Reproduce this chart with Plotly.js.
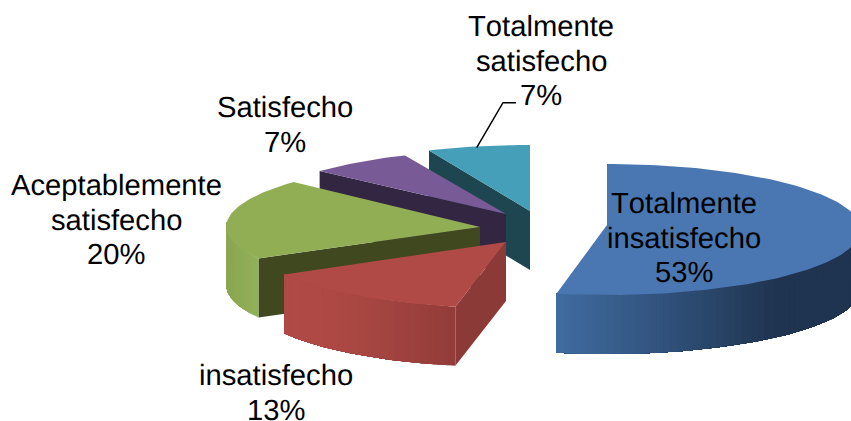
<!DOCTYPE html>
<html>
<head>
<meta charset="utf-8">
<script src="https://cdn.plot.ly/plotly-3.0.1.min.js"></script>
<style>
html,body{margin:0;padding:0;background:#fff}
#chart{width:851px;height:421px}
.annotation-text{font-kerning:none;text-rendering:geometricPrecision}
</style>
</head>
<body>
<div id="chart"></div>
<script>
// Survey answers and their share of respondents, clockwise from twelve o'clock.
const categories = ['Totalmente insatisfecho', 'insatisfecho', 'Aceptablemente satisfecho', 'Satisfecho', 'Totalmente satisfecho'];
const shares = [53, 13, 20, 7, 7];

// Tilted-disc projection.
const RX = 253, RY = 65.5, PERSPECTIVE = 0.069, DEPTH = 59, STEP = 1.5;
const origins = [[607, 225], [506, 242], [480, 227], [506, 214], [530, 211]];
const rimLift = [0, 4, 5, 3, 5];

// Fill colours per slice.
const topColors = ['#4a77b1', '#b04a47', '#91ae55', '#775a96', '#459fb9'];
const faceColors = [null, '#8c3a38', '#404820', '#332643', '#1d4651'];
const sideStops = [
  [[0, [64, 108, 160]], [0.35, [49, 82, 124]], [0.72, [31, 52, 80]], [1, [31, 52, 80]]],
  [[0, [176, 74, 71]], [0.35, [172, 72, 68]], [1, [146, 60, 57]]],
  [[0, [137, 167, 79]], [1, [147, 176, 90]]],
  null, null
];

// Label placement: centre x and first baseline y, with the line pitch shared.
const labelAnchors = [[684, 213], [276, 385], [116, 195], [285, 117], [541, 36]];
const LINE_PITCH = 34.3, FONT_SIZE = 29.2, BASELINE_TO_MIDDLE = 8.7;
const leaderX = [476.7, 503, 516];
const leaderY = [147.7, 102.7, 102.7];

function project(o, lift, deg, drop) {
  const a = deg * Math.PI / 180, u = Math.sin(a), v = -Math.cos(a), s = 1 + PERSPECTIVE * v;
  return [o[0] + RX * u * s, o[1] - lift + RY * v * s + (drop || 0)];
}
function range(a, b) {
  const out = [];
  for (let d = a; d < b; d += STEP) out.push(d);
  out.push(b);
  return out;
}
function polygon(points, color) {
  const xs = points.map(p => p[0]).concat(points[0][0]);
  const ys = points.map(p => p[1]).concat(points[0][1]);
  return {x: xs, y: ys, type: 'scatter', mode: 'lines', fill: 'toself', fillcolor: color,
          line: {width: 0}, hoverinfo: 'skip', showlegend: false};
}
function ramp(stops, t) {
  for (let i = 1; i < stops.length; i++) {
    if (t <= stops[i][0]) {
      const f = (t - stops[i - 1][0]) / (stops[i][0] - stops[i - 1][0]);
      const c = stops[i - 1][1].map((c0, k) => Math.round(c0 + (stops[i][1][k] - c0) * f));
      return 'rgb(' + c.join(',') + ')';
    }
  }
  return 'rgb(' + stops[stops.length - 1][1].join(',') + ')';
}

// Turn the shares into start and end angles.
const total = shares.reduce((a, b) => a + b, 0);
let running = 0;
const wedges = shares.map(v => {
  const start = running * 360 / total;
  running += v;
  return {start: start, end: running * 360 / total};
});

function sliceTraces(i) {
  const o = origins[i], lift = rimLift[i], w = wedges[i], out = [];
  // The radial wall on the leading edge faces the viewer for all but the first slice.
  if (faceColors[i]) {
    const rim = project(o, lift, w.start);
    out.push(polygon([o, rim, [rim[0], rim[1] + DEPTH], [o[0], o[1] + DEPTH]], faceColors[i]));
  }
  // Outer wall on the near half of the disc: each band runs on to the end of the
  // wall and the next band paints over it, which leaves no seams between bands.
  const from = Math.max(w.start, 90), to = Math.min(w.end, 270);
  if (sideStops[i] && to > from) {
    const angles = range(from, to);
    const px = angles.map(d => project(o, lift, d)[0]);
    const lo = Math.min(...px), hi = Math.max(...px);
    for (let k = 0; k < angles.length - 1; k++) {
      const rest = angles.slice(k).map(d => project(o, lift, d));
      const bottom = rest.map(p => [p[0], p[1] + DEPTH]).reverse();
      const t = ((px[k] + px[k + 1]) / 2 - lo) / (hi - lo);
      out.push(polygon(rest.concat(bottom), ramp(sideStops[i], t)));
    }
  }
  // Top surface.
  out.push(polygon([o].concat(range(w.start, w.end).map(d => project(o, lift, d))), topColors[i]));
  return out;
}

// Farther slices first so nearer ones sit on top.
const paintOrder = [4, 3, 0, 2, 1];
const traces = [];
paintOrder.forEach(i => traces.push(...sliceTraces(i)));
traces.push({x: leaderX, y: leaderY, type: 'scatter', mode: 'lines',
             line: {color: '#000', width: 1.5}, hoverinfo: 'skip', showlegend: false});

// One annotation per line so the line pitch can be set exactly.
const annotations = [];
categories.forEach((name, i) => {
  const lines = name.split(' ').concat(shares[i] + '%');
  lines.forEach((line, k) => {
    annotations.push({
      text: line, x: labelAnchors[i][0], y: labelAnchors[i][1] + k * LINE_PITCH - BASELINE_TO_MIDDLE,
      xref: 'x', yref: 'y', xanchor: 'center', yanchor: 'middle', showarrow: false,
      font: {family: '"Liberation Sans", Arial, sans-serif', size: FONT_SIZE, color: '#000'}
    });
  });
});

const hidden = {visible: false, fixedrange: true};
Plotly.newPlot('chart', traces, {
  width: 851, height: 421,
  margin: {l: 0, r: 0, t: 0, b: 0},
  paper_bgcolor: '#fff', plot_bgcolor: '#fff',
  showlegend: false,
  xaxis: Object.assign({range: [0, 851]}, hidden),
  yaxis: Object.assign({range: [421, 0]}, hidden),
  annotations: annotations
}, {staticPlot: true, displayModeBar: false});
</script>
</body>
</html>
